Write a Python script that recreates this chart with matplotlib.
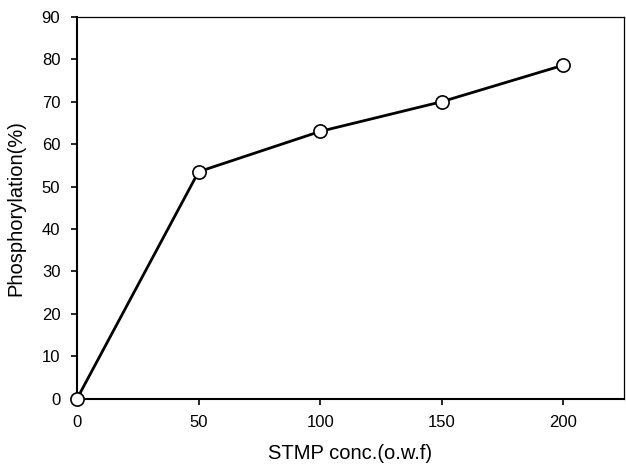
import matplotlib
matplotlib.use("Agg")
import matplotlib.pyplot as plt

plt.rcParams['font.family'] = ['Liberation Sans', 'DejaVu Sans']

conc = [0, 50, 100, 150, 200]
phosphorylation = [0, 53.5, 63, 70, 78.6]
xticks = [0, 50, 100, 150, 200]
yticks = [0, 10, 20, 30, 40, 50, 60, 70, 80, 90]

fig = plt.figure(figsize=(6.26, 4.67), dpi=100)
ax = fig.add_axes([0.123, 0.146, 0.874, 0.818])
ax.plot(conc, phosphorylation, color='black', lw=2, marker='o', ms=9.5,
        mfc='white', mec='black', mew=1.2, clip_on=False, zorder=3)
ax.set_xlim(0, 225)
ax.set_ylim(0, 90)
ax.set_xticks(xticks)
ax.set_yticks(yticks)
ax.tick_params(direction='out', length=4, width=1.2, labelsize=12, pad=8)
for s in ['left', 'bottom']:
    ax.spines[s].set_linewidth(1.5)
for s in ['top', 'right']:
    ax.spines[s].set_linewidth(0.9)
ax.set_xlabel('STMP conc.(o.w.f)', fontsize=14.5, labelpad=10)
ax.set_ylabel('Phosphorylation(%)', fontsize=14.5, labelpad=12)
fig.savefig('out.png', dpi=100)
